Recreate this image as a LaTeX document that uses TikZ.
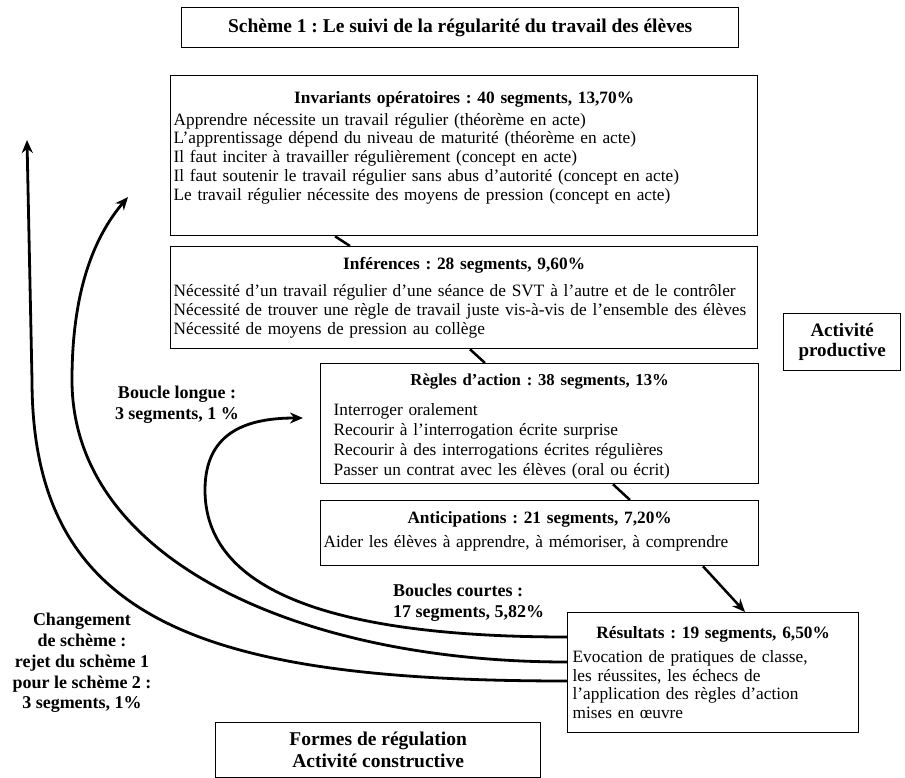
\documentclass[tikz,border=0pt]{standalone}
\usepackage{fontspec}
\setmainfont{Liberation Serif}
\usetikzlibrary{arrows.meta}
\setlength{\parindent}{0pt}
\frenchspacing

\tikzset{
  boite/.style={draw, line width=1.3pt, anchor=north west, align=left, inner xsep=3pt, inner ysep=0pt,
                font=\fontsize{17.3}{18.75}\selectfont},
  titre/.style={draw, line width=1.3pt, anchor=north west, align=center, inner sep=0pt,
                font=\bfseries\fontsize{19.5}{22}\selectfont},
  legende/.style={align=center, inner sep=0pt, font=\bfseries\fontsize{18}{20.75}\selectfont},
  lien/.style={line width=2.5pt},
  boucle/.style={line width=2.8pt, -{Stealth[length=13pt, width=11pt]}},
}
% en-tete centre d'une boite, et blanc sous la derniere ligne
\newcommand{\entete}[2]{{\centering\bfseries #1\par}\vspace{#2}}
\newcommand{\finboite}[1]{\par\vspace{#1}\hrule height 0pt}

\begin{document}
\begin{tikzpicture}[x=1pt, y=-1pt]
  \useasboundingbox (0,0) rectangle (905,778);

  % Titre
  \node[titre, minimum width=557pt, minimum height=40pt] (schema) at (181,7)
       {Schème 1 : Le suivi de la régularité du travail des élèves};

  % Boites du scheme
  \node[boite, text width=581pt, minimum height=160pt] (inv) at (170,75) {%
    \entete{Invariants opératoires : 40 segments, 13,70\%}{3pt}
    Apprendre nécessite un travail régulier (théorème en acte)\\
    L'apprentissage dépend du niveau de maturité (théorème en acte)\\
    Il faut inciter à travailler régulièrement (concept en acte)\\
    Il faut soutenir le travail régulier sans abus d'autorité (concept en acte)\\
    Le travail régulier nécessite des moyens de pression (concept en acte)\finboite{16pt}};

  \node[boite, text width=581pt, minimum height=102pt] (inf) at (170,246) {%
    \entete{Inférences : 28 segments, 9,60\%}{9pt}
    Nécessité d'un travail régulier d'une séance de SVT à l'autre et de le contrôler\\
    Nécessité de trouver une règle de travail juste vis-à-vis de l'ensemble des élèves\\
    Nécessité de moyens de pression au collège};

  \node[boite, inner xsep=13pt, text width=412pt, minimum height=120pt,
        font=\fontsize{17.3}{20}\selectfont] (reg) at (320,363) {%
    \entete{\fontsize{16.7}{20}\selectfont Règles d'action : 38 segments, 13\%}{10pt}
    Interroger oralement\\
    Recourir à l'interrogation écrite surprise\\
    Recourir à des interrogations écrites régulières\\
    Passer un contrat avec les élèves (oral ou écrit)\finboite{-6pt}};

  \node[boite, text width=432pt, minimum height=65pt] (anti) at (320,500) {%
    \entete{Anticipations : 21 segments, 7,20\%}{5pt}
    Aider les élèves à apprendre, à mémoriser, à comprendre\finboite{4pt}};

  \node[boite, inner xsep=5pt, text width=281pt, minimum height=120pt] (res) at (567,612) {%
    \entete{Résultats : 19 segments, 6,50\%}{5pt}
    Evocation de pratiques de classe,\\
    les réussites, les échecs de\\
    l'application des règles d'action\\
    mises en œuvre};

  \node[titre, minimum width=117pt, minimum height=57pt, font=\bfseries\fontsize{19}{20}\selectfont]
       (prod) at (783,313) {Activité\\productive};
  \node[titre, minimum width=325pt, minimum height=55pt] (formes) at (215,722)
       {Formes de régulation\\Activité constructive};

  % Legendes des boucles
  \node[legende] (longue) at (177,405) {Boucle longue :\\3 segments, 1 \%};
  \node[legende, align=left, anchor=west] (courtes) at (393,603) {Boucles courtes :\\17 segments, 5,82\%};
  \node[legende] (changement) at (82,663)
       {Changement\\de schème :\\rejet du schème 1\\pour le schème 2 :\\3 segments, 1\%};

  % Liens entre les boites
  \draw[lien] ([xshift=165pt]inv.south west) -- ([xshift=180pt]inf.north west);
  \draw[lien] ([xshift=300pt]inf.south west) -- ([xshift=165pt]reg.north west);
  \draw[lien] ([xshift=293pt]reg.south west) -- ([xshift=310pt]anti.north west);
  \draw[lien, -{Stealth[length=13pt, width=11pt]}] ([xshift=383pt]anti.south west) -- ([xshift=178pt]res.north west);

  % Boucles de regulation
  \coordinate (pointeA) at (27,140);
  \coordinate (pointeB) at (128,197);
  \coordinate (pointeC) at (303,418);
  \draw[boucle] ([yshift=-69pt]res.north west) .. controls (200,681) and (32,620) .. (32,380) -- (pointeA);
  \draw[boucle] ([yshift=-50pt]res.north west) .. controls (300,662) and (72,560) .. (72,380)
                .. controls (72,280) and (100,230) .. (pointeB);
  \draw[boucle] ([yshift=-25pt]res.north west) .. controls (330,637) and (205,590) .. (205,490)
                .. controls (205,430) and (250,418) .. (pointeC);
\end{tikzpicture}
\end{document}
